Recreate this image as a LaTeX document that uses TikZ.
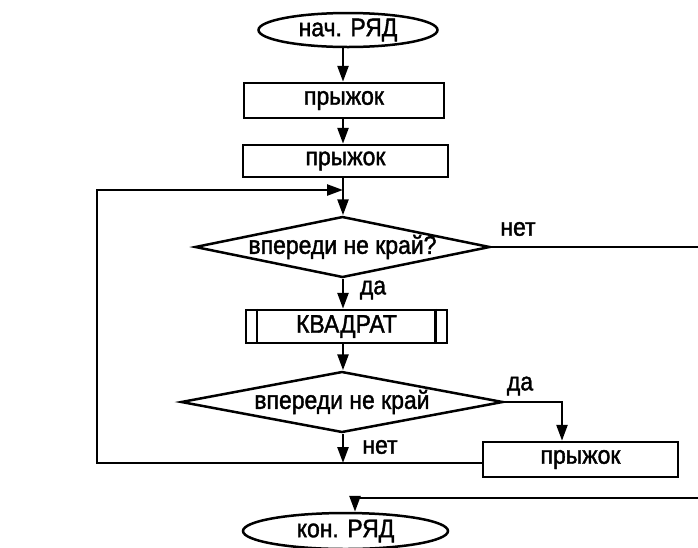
\documentclass[tikz,border=0pt]{standalone}
\usepackage{fontspec}
\setmainfont[FakeStretch=0.9,FakeBold=1.5]{Liberation Sans}
\usetikzlibrary{shapes.geometric,arrows.meta}
\begin{document}
\begin{tikzpicture}[x=1pt,y=-1pt,
  every node/.style={font=\fontsize{25.5}{30}\selectfont, inner sep=0pt},
  ln/.style={line width=2.5pt, line join=miter},
  arr/.style={ln, -{Triangle[length=16pt,width=11pt]}},
  term/.style={ln, draw, ellipse},
  act/.style={ln, draw, rectangle},
  dec/.style={ln, draw, diamond}]

% page area
\useasboundingbox (0,0) rectangle (698,547);
\clip (0,0) rectangle (698,547);
\fill[white] (0,0) rectangle (698,547);

% main column
\coordinate (spine) at (343,0);

\node[term, minimum width=179pt, minimum height=34pt] (start) at (348,30) {нач. РЯД};
\node[act, minimum width=200pt, minimum height=35pt] (b1) at (344,100.5) {прыжок};
\node[act, minimum width=205pt, minimum height=32pt] (b2) at (345.5,161) {прыжок};

\node[dec, minimum width=295pt, minimum height=61pt] (d1) at (342.5,247) {};
\node (d1t) at (d1.center) {впереди не край?};

\node[act, minimum width=201pt, minimum height=33pt] (kv) at (346.5,326.5) {КВАДРАТ};
\draw[ln] ([xshift=12pt]kv.north west) -- ([xshift=12pt]kv.south west);
\draw[ln] ([xshift=-13pt]kv.north east) -- ([xshift=-13pt]kv.south east);

\node[dec, minimum width=322pt, minimum height=61pt] (d2) at (342,402) {};
\node (d2t) at (d2.center) {впереди не край};

\node[act, minimum width=195pt, minimum height=35pt] (b3) at (580.5,459.5) {прыжок};

\node[term, minimum width=205pt, minimum height=36pt] (stop) at (345.5,531) {кон. РЯД};

% branch labels
\node (no1) at (518,229) {нет};
\node (yes1) at (373,290) {да};
\node (yes2) at (520,386) {да};
\node (no2) at (380,447) {нет};

% helper points
\coordinate (merge) at (343,463);
\coordinate (loopc) at (97,190);
\coordinate (outA) at (710,247);
\coordinate (outB) at (710,498);

% straight flow
\draw[arr] (spine |- start.south) -- (spine |- b1.north);
\draw[arr] (spine |- b1.south) -- (spine |- b2.north);
\draw[arr] (spine |- b2.south) -- (spine |- d1.north);
\draw[arr] (spine |- d1.south) -- (spine |- kv.north);
\draw[arr] (spine |- kv.south) -- (spine |- d2.north);
\draw[arr] (spine |- d2.south) -- (merge);

% loop back to the first test
\draw[arr] (b3.west |- merge) -| (loopc) -- (spine |- loopc);

% yes branch of the second test
\draw[arr] (d2.east) -| ([xshift=-18.5pt]b3.north);

% exit of the first test and the way to the end
\draw[ln] (d1.east) -- (outA);
\draw[arr] (outB) -| ([xshift=9.5pt]stop.north);
\end{tikzpicture}
\end{document}
